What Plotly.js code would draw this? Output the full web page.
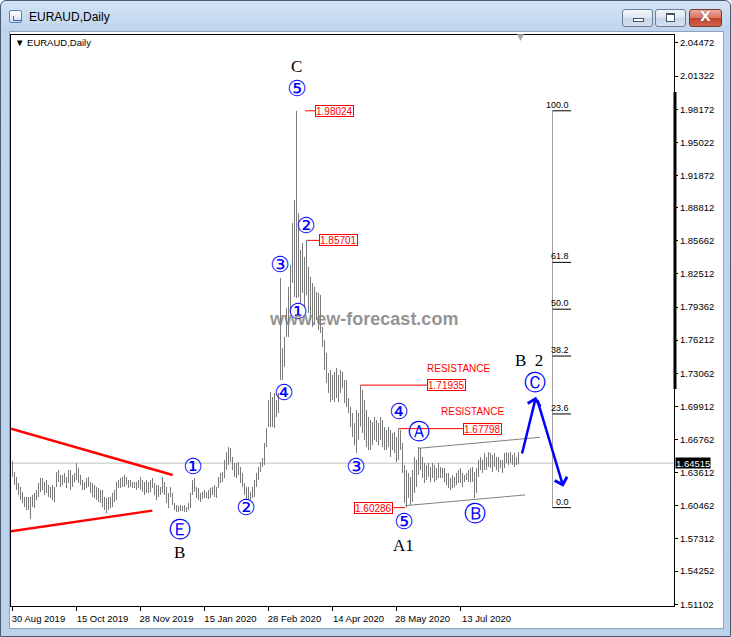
<!DOCTYPE html>
<html>
<head>
<meta charset="utf-8">
<script src="https://cdn.plot.ly/plotly-3.0.1.min.js"></script>
<style>
  html, body { margin:0; padding:0; width:731px; height:637px; overflow:hidden; background:#fff; }
  #win { position:absolute; left:0; top:0; width:731px; height:637px; box-sizing:border-box;
         border:1px solid #4a5a70; border-radius:6px 6px 0 0;
         background:linear-gradient(#d3e3f5 0px, #c0d5ed 28px, #bcd2eb 100%); }
  #client { position:absolute; left:8px; top:30px; width:715px; height:598px; box-sizing:border-box;
            background:#fff; border:1px solid #8da3bf; }
  #icon { position:absolute; left:8px; top:9px; width:13px; height:13px; box-sizing:border-box;
          border:1px solid #5a7fb0; background:linear-gradient(#ffffff,#cfe0f5); border-radius:2px; }
  #icon:after { content:""; position:absolute; left:3px; top:5px; width:8px; height:4px;
          border-left:1px solid #3566b0; border-bottom:1px solid #3566b0; }
  #wtitle { position:absolute; left:28px; top:9px; font:12px "Liberation Sans", Arial, sans-serif; color:#000; }
  .btn { position:absolute; top:8px; height:18px; box-sizing:border-box; border:1px solid #6b7c93;
         border-radius:3px; background:linear-gradient(#f2f6fb 0%, #dbe5f1 50%, #c7d5e7 51%, #d6e2f0 100%); }
  #bmin { left:621px; width:31px; }
  #bmax { left:654px; width:31px; }
  #bcls { left:688px; width:33px; border-color:#7a3a33;
          background:linear-gradient(#e9a99c 0%, #d8735f 50%, #c2412b 51%, #d0634b 100%); }
  #bmin:after { content:""; position:absolute; left:10px; top:8px; width:9px; height:2px; background:#fff; border:1px solid #44536a; }
  #bmax:after { content:""; position:absolute; left:10px; top:3px; width:7px; height:6px; border:1px solid #44536a; border-top-width:2px; background:#fff; }
  #bcls span { position:absolute; left:0; top:-2px; width:31px; text-align:center; color:#fff;
               font:bold 14px "DejaVu Sans", sans-serif; text-shadow:0 0 1px #5a1a10; }
  #chart { position:absolute; left:0; top:0; width:731px; height:637px; }
</style>
</head>
<body>
<div id="win">
  <div id="icon"></div>
  <div id="wtitle">EURAUD,Daily</div>
  <div class="btn" id="bmin"></div>
  <div class="btn" id="bmax"></div>
  <div class="btn" id="bcls"><span>X</span></div>
  <div id="client"></div>
</div>
<div id="chart"></div>
<script>
// EURAUD daily bars, one entry per trading day starting 30 Aug 2019
const barHigh = [
  1.6472,1.6367,1.6320,1.6263,1.6225,1.6177,1.6130,1.6130,1.6130,1.6130,
  1.6149,1.6168,1.6196,1.6263,1.6310,1.6310,1.6272,1.6291,1.6244,1.6225,
  1.6244,1.6225,1.6367,1.6386,1.6339,1.6339,1.6358,1.6320,1.6386,1.6386,
  1.6339,1.6358,1.6453,1.6405,1.6339,1.6291,1.6272,1.6310,1.6320,1.6272,
  1.6263,1.6244,1.6225,1.6215,1.6196,1.6196,1.6130,1.6120,1.6130,1.6130,
  1.6168,1.6196,1.6272,1.6291,1.6310,1.6320,1.6339,1.6320,1.6291,1.6291,
  1.6272,1.6272,1.6272,1.6291,1.6320,1.6291,1.6272,1.6291,1.6272,1.6291,
  1.6310,1.6263,1.6244,1.6244,1.6225,1.6320,1.6272,1.6225,1.6168,
  1.6225,1.6168,1.6073,1.6054,1.6044,1.6054,1.6044,1.6054,1.6034,1.6073,
  1.6168,1.6291,1.6310,1.6225,1.6215,1.6168,1.6177,1.6196,1.6177,1.6196,
  1.6215,1.6225,1.6244,1.6225,1.6320,1.6358,1.6367,1.6481,1.6557,1.6605,
  1.6595,1.6510,1.6453,1.6453,1.6462,1.6415,1.6358,1.6263,1.6225,1.6225,
  1.6177,1.6225,1.6291,1.6358,1.6415,1.6462,1.6500,1.6643,1.6786,1.7052,
  1.7128,1.7081,1.7119,1.7052,1.7119,
  1.8212,1.7547,1.7652,1.7927,1.8127,1.8336,1.8735,1.8954,1.98024,1.8830,
  1.8479,1.8545,1.8412,1.85701,1.8317,1.8222,1.8165,1.8127,1.8079,1.8070,
  1.8051,1.7746,1.7622,1.7499,1.7309,1.7337,1.7290,1.7318,1.7356,1.7290,
  1.7337,1.7318,1.7242,1.7242,1.7071,1.6985,1.6928,1.6833,1.6957,1.6928,
  1.71935,
  1.7147,1.7052,1.6957,1.6890,1.6862,1.6843,1.6890,1.6862,1.6833,1.6890,
  1.6862,1.6795,1.6767,1.6795,1.6767,1.6738,1.6748,1.6700,1.67798,1.6767,
  1.6643,1.6434,1.6386,1.6358,1.6320,1.6386,1.6510,1.6481,1.6605,1.6596,
  1.6510,1.6453,1.6434,1.6453,1.6415,1.6453,1.6434,1.6405,1.6453,1.6415,
  1.6405,1.6405,1.6358,1.6358,1.6310,1.6339,1.6320,1.6358,1.6386,1.6405,
  1.6358,1.6339,1.6358,1.6386,1.6405,1.6415,1.6367,1.6405,1.6481,1.6510,
  1.6481,1.6548,1.6510,1.6557,1.6548,1.6529,1.6548,1.6510,1.6510,1.6481,
  1.6481,1.6548,1.6557,1.6548,1.6557,1.6529,1.6548,1.6510,1.6557
];
const barLow = [
  1.6320,1.6244,1.6196,1.6149,1.6101,1.6073,1.6034,1.6006,1.6006,1.5920,
  1.6034,1.6025,1.6101,1.6130,1.6177,1.6196,1.6149,1.6168,1.6130,1.6120,
  1.6101,1.6082,1.6225,1.6272,1.6225,1.6244,1.6263,1.6215,1.6263,1.6196,
  1.6225,1.6272,1.6291,1.6263,1.6244,1.6196,1.6196,1.6215,1.6225,1.6168,
  1.6130,1.6120,1.6101,1.6082,1.6073,1.6034,1.6006,1.5977,1.6006,1.6025,
  1.6034,1.6082,1.6101,1.6215,1.6215,1.6225,1.6225,1.6244,1.6215,1.6225,
  1.6215,1.6215,1.6196,1.6215,1.6196,1.6177,1.6149,1.6168,1.6168,1.6177,
  1.6215,1.6149,1.6101,1.6130,1.6149,1.6168,1.6149,1.6073,1.6025,
  1.6130,1.6054,1.6006,1.5987,1.5987,1.5996,1.5996,1.5987,1.5987,1.6006,
  1.6025,1.6149,1.6177,1.6120,1.6101,1.6082,1.6111,1.6120,1.6120,1.6111,
  1.6120,1.6149,1.6130,1.6120,1.6215,1.6263,1.6272,1.6310,1.6386,1.6434,
  1.6462,1.6386,1.6320,1.6310,1.6339,1.6263,1.6225,1.6149,1.6111,1.6101,
  1.6101,1.6120,1.6130,1.6225,1.6291,1.6367,1.6415,1.6434,1.6605,1.6795,
  1.6795,1.6795,1.6786,1.6890,1.6928,
  1.7242,1.7242,1.7366,1.7652,1.7652,1.7879,1.8165,1.8032,1.8022,1.8032,
  1.7975,1.8070,1.7937,1.8051,1.7879,1.7813,1.7746,1.7784,1.7813,1.7718,
  1.7689,1.7556,1.7337,1.7214,1.7119,1.7033,1.7052,1.7033,1.7071,1.7033,
  1.7119,1.7166,1.7024,1.6985,1.6928,1.6795,1.6700,1.6620,1.6548,1.6672,
  1.6800,
  1.6738,1.6672,1.6605,1.6576,1.6576,1.6624,1.6672,1.6653,1.6624,1.6672,
  1.6605,1.6576,1.6576,1.6605,1.6510,1.6576,1.6548,1.6462,1.6481,1.6576,
  1.6358,1.6073,1.60286,1.6120,1.6054,1.6082,1.6168,1.6225,1.6339,1.6386,
  1.6310,1.6263,1.6291,1.6320,1.6272,1.6310,1.6272,1.6291,1.6310,1.6310,
  1.6310,1.6272,1.6244,1.6215,1.6196,1.6215,1.6225,1.6244,1.6263,1.6263,
  1.6225,1.6272,1.6291,1.6272,1.6272,1.6272,1.6120,1.6168,1.6320,1.6386,
  1.6358,1.6386,1.6386,1.6415,1.6405,1.6367,1.6415,1.6386,1.6367,1.6405,
  1.6358,1.6405,1.6453,1.6434,1.6453,1.6434,1.6415,1.6434,1.6440
];

// time axis: bar index of each date label
const dateTickIndex = [0, 32, 64, 96, 128, 160, 192, 224];
const dateTickText = ["30 Aug 2019","15 Oct 2019","28 Nov 2019","15 Jan 2020",
                      "28 Feb 2020","14 Apr 2020","28 May 2020","13 Jul 2020"];

// price scale marks
const priceTicks = [2.04472,2.01322,1.98172,1.95022,1.91872,1.88812,1.85662,1.82512,1.79362,
                    1.76212,1.73062,1.69912,1.66762,1.63612,1.60462,1.57312,1.54252,1.51102];
const lastPrice = 1.64515;

// marked swing levels
const swingHigh = 1.98024, swingHigh2 = 1.85701, resistance1 = 1.71935, resistance2 = 1.67798, swingLow = 1.60286;
// Fibonacci retracement ratios (%) between swingLow and swingHigh
const fibRatios = [100.0, 61.8, 50.0, 38.2, 23.6, 0.0];

// ---- bar segments (high-low) ----
const segX = [], segY = [];
barHigh.forEach((h, i) => { segX.push(i, i, null); segY.push(barLow[i], h, null); });

const bars = {
  type: 'scatter', mode: 'lines', x: segX, y: segY,
  line: { color: '#7a7a7a', width: 1 }, hoverinfo: 'skip', showlegend: false
};

const RED = '#ff0000', BLUE = '#0000ff';
const sansFont = '"Liberation Sans", Arial, sans-serif';
const shapes = [];
const annotations = [];

// last price line
shapes.push({ type:'line', xref:'paper', x0:0, x1:1, yref:'y', y0:lastPrice, y1:lastPrice,
              line:{ color:'#c0c0c0', width:1 }, layer:'below' });

// triangle boundaries (red)
shapes.push({ type:'line', x0:-0.75, y0:1.6779, x1:80.1, y1:1.6339, line:{ color:RED, width:2.5 } });
shapes.push({ type:'line', x0:-0.75, y0:1.5804, x1:69.9, y1:1.6000, line:{ color:RED, width:2.5 } });

// channel (grey)
shapes.push({ type:'line', x0:203.25, y0:1.6593, x1:263.75, y1:1.6697, line:{ color:'#808080', width:1 } });
shapes.push({ type:'line', x0:196.25, y0:1.6047, x1:256.25, y1:1.6149, line:{ color:'#808080', width:1 } });

// price level tags: connector line + boxed value
function levelTag(value, lineFrom, lineTo, boxX, anchor) {
  shapes.push({ type:'line', x0:lineFrom, x1:lineTo, y0:value, y1:value, line:{ color:RED, width:1 } });
  annotations.push({ x:boxX, y:value, xanchor:anchor, yanchor:'middle', showarrow:false,
    text:value.toFixed(5), font:{ family:sansFont, size:10, color:RED },
    bgcolor:'#ffffff', bordercolor:RED, borderwidth:1, borderpad:0, height:10 });
}
levelTag(swingHigh, 146.25, 151.25, 151.25, 'left');
levelTag(swingHigh2, 147.25, 153.25, 153.25, 'left');
levelTag(resistance1, 174, 207.25, 207.25, 'left');
levelTag(resistance2, 193, 225.25, 225.25, 'left');
levelTag(swingLow, 190.4, 196.25, 190.4, 'right');

annotations.push({ x:222.75, y:1.7347, showarrow:false, text:'RESISTANCE', font:{ family:sansFont, size:10, color:RED } });
annotations.push({ x:229.75, y:1.6938, showarrow:false, text:'RESISTANCE', font:{ family:sansFont, size:10, color:RED } });

// Fibonacci retracement
const fibX0 = 270, fibX1 = 279.25;
shapes.push({ type:'line', x0:fibX0, x1:fibX0, y0:swingLow, y1:swingHigh, line:{ color:'#a0a0a0', width:1 } });
fibRatios.forEach(r => {
  const lvl = swingLow + (swingHigh - swingLow) * r / 100;
  shapes.push({ type:'line', x0:fibX0, x1:fibX1, y0:lvl, y1:lvl, line:{ color:'#000000', width:1 } });
  annotations.push({ x:fibX1, y:lvl, xanchor:'right', yanchor:'bottom', yshift:-1, showarrow:false,
    text:r.toFixed(1), font:{ family:sansFont, size:9, color:'#000' } });
});

// Elliott wave labels
const circled = [
  ['⑤',142.25,2.0019], ['②',146.75,1.8716], ['③',133.75,1.8336], ['①',142.75,1.7898],
  ['④',135.75,1.7128], ['③',171.75,1.6415], ['④',193.25,1.6947], ['Ⓐ',203.25,1.6748],
  ['⑤',195.75,1.5900], ['Ⓑ',231.25,1.5968], ['Ⓒ',261.0,1.7220], ['①',90.25,1.6424],
  ['②',116.5,1.6025], ['Ⓔ',83.75,1.5816]
];
circled.forEach(([t,x,y]) => annotations.push({ x, y, text:t, showarrow:false,
  font:{ family:'"DejaVu Sans", sans-serif', size:22, color:BLUE } }));

const letters = [['C',142.1,2.0228], ['B',83.25,1.5597], ['A1',195.25,1.5664], ['B&nbsp;&nbsp;2',258.25,1.7432]];
letters.forEach(([t,x,y]) => annotations.push({ x, y, text:t, showarrow:false,
  font:{ family:'"Liberation Serif", "Times New Roman", serif', size:17, color:'#000' } }));

// projected path arrows
annotations.push({ x:261.75, y:1.7083, ax:254.6, ay:1.6529, axref:'x', ayref:'y', showarrow:true,
  arrowhead:4, arrowsize:1, arrowwidth:2.5, arrowcolor:BLUE, text:'' });
annotations.push({ x:275.4, y:1.6227, ax:262.25, ay:1.7062, axref:'x', ayref:'y', showarrow:true,
  arrowhead:4, arrowsize:1, arrowwidth:2.5, arrowcolor:BLUE, text:'' });

// watermark
annotations.push({ xref:'paper', yref:'paper', x:0.5317, y:0.5035, showarrow:false,
  text:'<b>www.ew-forecast.com</b>', font:{ family:sansFont, size:18, color:'rgba(128,128,128,0.85)' } });

// chart caption and shift marker
annotations.push({ xref:'paper', yref:'paper', x:0.003, y:0.9877, xanchor:'left', yanchor:'middle', showarrow:false,
  text:'▼ EURAUD,Daily', font:{ family:sansFont, size:9.5, color:'#000' } });
annotations.push({ xref:'paper', yref:'paper', x:0.769, y:0.9965, xanchor:'center', yanchor:'middle', showarrow:false,
  text:'▼', font:{ family:'"DejaVu Sans", sans-serif', size:9, color:'#a8a8a8' } });

// last price tag on the scale
annotations.push({ xref:'paper', x:1, xanchor:'left', xshift:1, y:lastPrice, yref:'y', yanchor:'middle',
  showarrow:false, text:lastPrice.toFixed(5), font:{ family:sansFont, size:9.5, color:'#fff' },
  bgcolor:'#000', borderpad:0, height:10 });

// scale range marker on the right edge
shapes.push({ type:'line', xref:'paper', x0:1.0015, x1:1.0015, yref:'y', y0:1.9981, y1:1.7157,
              line:{ color:'#000', width:3 } });

const layout = {
  width:731, height:637,
  margin:{ l:11, r:57, t:35, b:31, pad:0 },
  paper_bgcolor:'rgba(0,0,0,0)', plot_bgcolor:'#ffffff',
  showlegend:false,
  xaxis:{ range:[-0.75, 330.75], tickvals:dateTickIndex, ticktext:dateTickText,
          ticks:'outside', ticklen:4, tickcolor:'#000', ticklabelshift:26,
          tickfont:{ family:sansFont, size:9.5, color:'#000' },
          showline:true, mirror:true, linecolor:'#000', linewidth:1,
          showgrid:false, zeroline:false, fixedrange:true },
  yaxis:{ side:'right', range:[1.50929, 2.05232], tickvals:priceTicks, tickformat:'.5f',
          ticks:'outside', ticklen:3, tickcolor:'#000',
          tickfont:{ family:sansFont, size:9.5, color:'#000' },
          showline:true, mirror:true, linecolor:'#000', linewidth:1,
          showgrid:false, zeroline:false, fixedrange:true },
  shapes, annotations
};

Plotly.newPlot('chart', [bars], layout, { staticPlot:true, displayModeBar:false });
</script>
</body>
</html>
